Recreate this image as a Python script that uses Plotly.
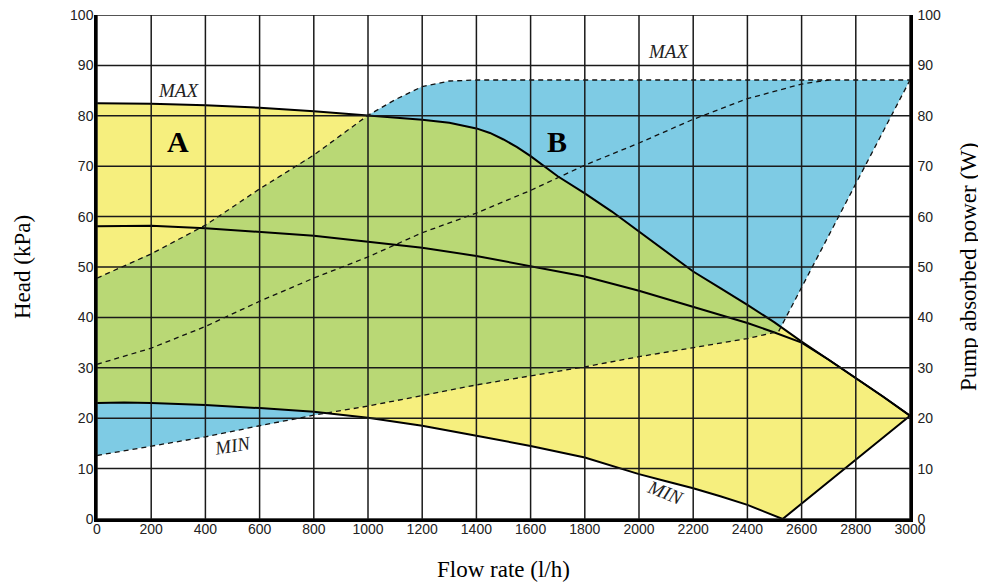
import numpy as np
import plotly.graph_objects as go

# --- データ ---
# ヘッド曲線（kPa）
flow_head_max = [0, 200, 400, 600, 800, 1000, 1200, 1300, 1400, 1450, 1500, 1550, 1600, 1700, 1800,
                 1900, 2000, 2100, 2200, 2300, 2400, 2500, 2600, 2700, 2800, 2900, 3000]
head_max = [82.5, 82.4, 82.1, 81.6, 80.9, 80.0, 79.2, 78.6, 77.5, 76.6, 75.3, 73.8, 72.0, 68.0, 64.6,
            61.0, 57.0, 53.0, 49.1, 45.8, 42.5, 39.0, 35.2, 31.6, 28.0, 24.3, 20.5]

flow_head_mid = [0, 200, 400, 600, 800, 1000, 1200, 1400, 1600, 1800, 2000, 2200, 2400,
                 2500, 2600, 2700, 2800, 2900, 3000]
head_mid = [58.1, 58.2, 57.7, 57.0, 56.2, 55.0, 53.8, 52.2, 50.2, 48.1, 45.3, 42.1, 38.9,
            37.0, 35.0, 31.6, 28.0, 24.3, 20.5]

flow_head_min = [0, 100, 200, 400, 600, 800, 1000, 1200, 1400, 1600, 1800, 2000, 2100,
                 2200, 2300, 2400, 2530, 3000]
head_min = [23.0, 23.1, 23.0, 22.6, 22.0, 21.3, 20.1, 18.5, 16.5, 14.5, 12.2, 8.9, 7.5,
            6.1, 4.5, 2.8, 0.0, 20.5]

# 消費電力曲線（W）
flow_pow_max = [0, 200, 400, 600, 800, 1000, 1100, 1200, 1300, 1400, 1500, 3000]
pow_max = [47.8, 52.6, 58.3, 65.5, 72.2, 80.1, 83.2, 85.8, 86.9, 87.1, 87.1, 87.1]

flow_pow_mid = [0, 200, 400, 600, 800, 1000, 1200, 1400, 1600, 1800, 2000, 2200, 2400, 2600, 2700]
pow_mid = [30.7, 33.9, 38.2, 43.2, 47.8, 52.0, 56.8, 60.7, 65.2, 70.2, 74.6, 79.3, 83.4, 86.3, 87.1]

flow_pow_min = [0, 200, 400, 600, 800, 1000, 1200, 1400, 1600, 1800, 2000, 2200, 2400, 2515, 3000]
pow_min = [12.6, 14.5, 16.3, 18.5, 20.6, 22.4, 24.5, 26.6, 28.4, 30.2, 32.2, 34.0, 35.8, 37.2, 87.1]

x_ticks = list(range(0, 3001, 200))
y_ticks = list(range(0, 101, 10))

COLORS = {
    'yellow': '#F6EF7E',
    'green': '#B9D875',
    'blue': '#7ECBE4',
}
SERIF = 'Liberation Serif'
SANS = 'Liberation Sans'

fig = go.Figure()

# 領域B（消費電力範囲）
fig.add_trace(go.Scatter(
    x=flow_pow_max + flow_pow_min[::-1], y=pow_max + pow_min[::-1],
    fill='toself', fillcolor=COLORS['blue'], line=dict(width=0), mode='lines',
    hoverinfo='skip'))

# 領域A（ヘッド範囲）
fig.add_trace(go.Scatter(
    x=flow_head_max + flow_head_min[::-1], y=head_max + head_min[::-1],
    fill='toself', fillcolor=COLORS['yellow'], line=dict(width=0), mode='lines',
    hoverinfo='skip'))

# 重なり部分（緑）
xs = np.linspace(0, 3000, 3001)
lo = np.maximum(np.interp(xs, flow_head_min, head_min), np.interp(xs, flow_pow_min, pow_min))
hi = np.minimum(np.interp(xs, flow_head_max, head_max), np.interp(xs, flow_pow_max, pow_max))
m = hi > lo
fig.add_trace(go.Scatter(
    x=np.concatenate([xs[m], xs[m][::-1]]), y=np.concatenate([hi[m], lo[m][::-1]]),
    fill='toself', fillcolor=COLORS['green'], line=dict(width=0), mode='lines',
    hoverinfo='skip'))

# 電力曲線（破線）
dash = dict(color='#111', width=1.3, dash='5px,4px')
for fx, fy in [(flow_pow_max, pow_max), (flow_pow_mid, pow_mid), (flow_pow_min, pow_min)]:
    fig.add_trace(go.Scatter(x=fx, y=fy, mode='lines', line=dash, yaxis='y2'))

# ヘッド曲線（実線）
solid = dict(color='black', width=2)
for fx, fy in [(flow_head_max, head_max), (flow_head_mid, head_mid), (flow_head_min, head_min)]:
    fig.add_trace(go.Scatter(x=fx, y=fy, mode='lines', line=solid))

# グリッド（塗りの上に描く）
grid_line = dict(color='#1a1a1a', width=1.5)
shapes = []
for xv in x_ticks:
    shapes.append(dict(type='line', xref='x', yref='y', x0=xv, x1=xv, y0=0, y1=100,
                       line=grid_line, layer='above'))
for yv in y_ticks:
    shapes.append(dict(type='line', xref='x', yref='y', x0=0, x1=3000, y0=yv, y1=yv,
                       line=grid_line, layer='above'))

annotations = [
    dict(x=299, y=75, text='<b>A</b>', font=dict(family=SERIF, size=30, color='black')),
    dict(x=1697, y=75, text='<b>B</b>', font=dict(family=SERIF, size=30, color='black')),
    dict(x=299, y=85.0, text='<i>MAX</i>', font=dict(family=SERIF, size=19, color='#222')),
    dict(x=2108, y=92.7, text='<i>MAX</i>', font=dict(family=SERIF, size=19, color='#222')),
    dict(x=500, y=14.6, text='<i>MIN</i>', textangle=-9, font=dict(family=SERIF, size=19, color='#222')),
    dict(x=2098, y=5.3, text='<i>MIN</i>', textangle=22, font=dict(family=SERIF, size=19, color='#222')),
]
for a in annotations:
    a.update(xref='x', yref='y', showarrow=False)

# 軸タイトル
title_font = dict(family=SERIF, size=23, color='black')
annotations += [
    dict(xref='paper', yref='paper', x=(22 - 97) / 813, y=0.5, text='Head (kPa)',
         textangle=-90, showarrow=False, font=title_font),
    dict(xref='paper', yref='paper', x=(968 - 97) / 813, y=0.5, text='Pump absorbed power (W)',
         textangle=-90, showarrow=False, font=title_font),
    dict(xref='paper', yref='paper', x=0.5, y=(519 - 569) / 504, text='Flow rate (l/h)',
         showarrow=False, font=title_font),
]
for a in annotations:
    a.update(xanchor='center', yanchor='middle')

tick_font = dict(family=SANS, size=14, color='#222')
# ページ本体の余白（8px）を差し引いたサイズ
fig.update_layout(
    width=978, height=577,
    margin=dict(l=89, r=76, t=7, b=66),
    paper_bgcolor='white', plot_bgcolor='white',
    showlegend=False,
    shapes=shapes,
    annotations=annotations,
    xaxis=dict(
        range=[0, 3000], tickvals=x_ticks, showgrid=False, zeroline=False,
        showline=True, linecolor='black', linewidth=2.5, automargin=False,
        tickfont=tick_font, ticklabelstandoff=-5, ticklabeloverflow='allow',
    ),
    yaxis=dict(
        range=[0, 100], tickvals=y_ticks, showgrid=False, zeroline=False,
        showline=True, linecolor='black', linewidth=2.5, automargin=False,
        tickfont=tick_font, ticklabelstandoff=-2, ticklabeloverflow='allow',
    ),
    yaxis2=dict(
        range=[0, 100], tickvals=y_ticks, overlaying='y', side='right', showgrid=False,
        zeroline=False, showline=True, linecolor='black', linewidth=2.5, automargin=False,
        tickfont=tick_font, ticklabelstandoff=2, ticklabeloverflow='allow',
    ),
)

fig.write_html('out.html')
